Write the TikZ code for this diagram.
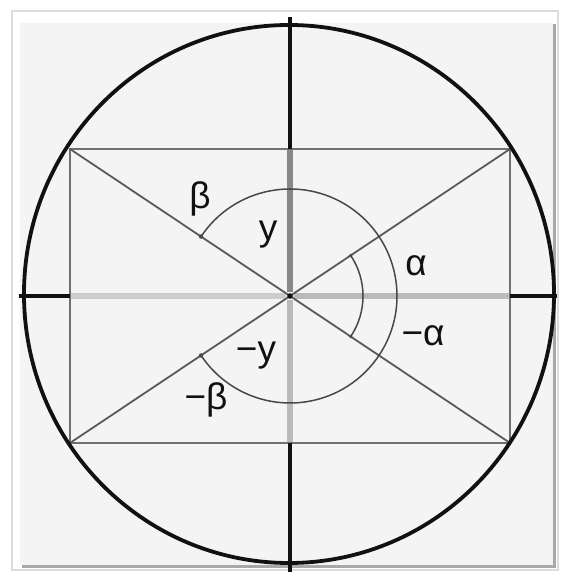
\documentclass[tikz,border=0pt]{standalone}
\usepackage{fontspec}
\usepackage{tikz}
\usetikzlibrary{calc}
\newfontfamily\lblfont{Liberation Sans}
\definecolor{ink}{HTML}{111111}
\definecolor{paper}{HTML}{F4F4F4}
\definecolor{rimgray}{HTML}{DCDCDC}
\definecolor{shadegray}{HTML}{A8A8A8}
\definecolor{boxgray}{HTML}{707070}
\definecolor{diaggray}{HTML}{5A5A5A}
\definecolor{arcgray}{HTML}{484848}
\definecolor{axisdark}{HTML}{888888}
\definecolor{axislight}{HTML}{BABABA}
\definecolor{axispale}{HTML}{CDCDCD}
\tikzset{
  mainaxis/.style={draw=ink,line width=4pt},
  boxline/.style={draw=boxgray,line width=2.8pt},
  diagline/.style={draw=diaggray,line width=1.8pt},
  anglearc/.style={draw=arcgray,line width=1.5pt},
  halfaxis/.style={line width=6.5pt},
  anglelbl/.style={font=\lblfont\fontsize{37}{40}\selectfont,text=ink,inner sep=0pt}
}

\begin{document}
\begin{tikzpicture}[x=1pt,y=1pt]
  \useasboundingbox (-290,-281) rectangle (274,296);
  % framed panel
  \fill[white] (-290,-281) rectangle (274,296);
  \draw[rimgray,line width=1.2pt] (-278,-274) rectangle (268,285);
  \fill[shadegray] (-268,-272) rectangle (266,272);
  \fill[paper] (-270,-269) rectangle (263,273);

  \coordinate (O) at (0,0);
  \coordinate (tl) at (-220,147);
  \coordinate (tr) at (220,147);
  \coordinate (bl) at (-220,-147);
  \coordinate (br) at (220,-147);
  \coordinate (ml) at (-220,0);
  \coordinate (mr) at (220,0);
  \coordinate (mt) at (0,147);
  \coordinate (mb) at (0,-147);

  % half axes inside the box
  \draw[halfaxis,axispale] (ml) -- (-4,0);
  \draw[halfaxis,axislight] (4,0) -- (mr);
  \draw[halfaxis,axisdark,line width=5.5pt] (mt) -- (0,4);
  \draw[halfaxis,axislight,line width=5.5pt] (0,-4) -- (mb);

  % box and diagonals
  \draw[boxline] (tl) rectangle (br);
  \draw[diagline] (tl) -- (br);
  \draw[diagline] (bl) -- (tr);

  % circle and axes
  \draw[ink,line width=3.8pt] (-1,2) ellipse [x radius=265,y radius=269];
  \draw[mainaxis] (0,279) -- (mt);
  \draw[mainaxis] (mb) -- (0,-276);
  \draw[mainaxis] (-271,0) -- (ml);
  \draw[mainaxis] (mr) -- (267,0);
  \fill[ink] (O) circle (2.8);

  % angle arcs
  \draw[anglearc] (146.25:107) arc[start angle=146.25,end angle=-146.25,radius=107];
  \draw[anglearc] (33.75:73) arc[start angle=33.75,end angle=-33.75,radius=73];
  \foreach \a in {146.25,-146.25} \fill[arcgray] (\a:107) circle (2.2);
  \foreach \a in {33.75,-33.75} \fill[arcgray] (\a:73) circle (1.8);

  % labels
  \node[anglelbl] (lb) at (-90,97) {β};
  \node[anglelbl] (ly) at (-22,61) {y};
  \node[anglelbl] (la) at (126,30) {α};
  \node[anglelbl] (lma) at (133,-40) {−α};
  \node[anglelbl] (lmy) at (-34,-60) {−y};
  \node[anglelbl] (lmb) at (-84,-104) {−β};
\end{tikzpicture}
\end{document}
